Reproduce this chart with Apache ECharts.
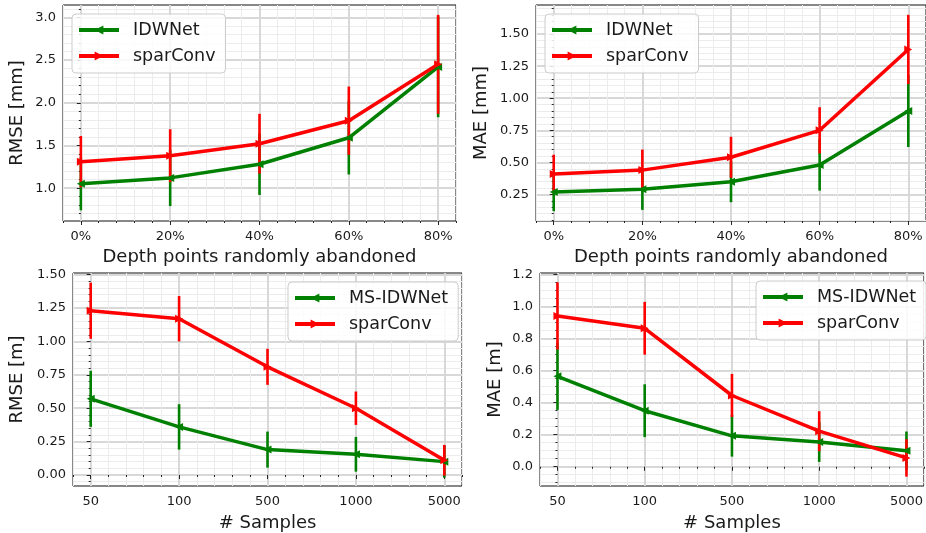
<!DOCTYPE html>
<html>
<head>
<meta charset="utf-8">
<script src="https://cdn.jsdelivr.net/npm/echarts@6/dist/echarts.min.js"></script>
<style>html,body{margin:0;padding:0;background:#fff;}#c{width:926px;height:533px;}</style>
</head>
<body>
<div id="c"></div>
<script>
// ---------- data ----------
const xPos = [0, 1, 2, 3, 4];
const xLabelsTop = ['0%', '20%', '40%', '60%', '80%'];
const xLabelsBottom = ['50', '100', '500', '1000', '5000'];

const rmseIdw = [1.05, 1.12, 1.28, 1.59, 2.42];
const rmseIdwErr = [0.31, 0.33, 0.36, 0.43, 0.59];
const rmseSpar = [1.31, 1.38, 1.52, 1.79, 2.45];
const rmseSparErr = [0.30, 0.31, 0.35, 0.40, 0.58];

const maeIdw = [0.27, 0.29, 0.35, 0.48, 0.90];
const maeIdwErr = [0.15, 0.16, 0.16, 0.20, 0.28];
const maeSpar = [0.41, 0.44, 0.54, 0.75, 1.38];
const maeSparErr = [0.15, 0.16, 0.16, 0.18, 0.27];

const rmseMs = [0.57, 0.36, 0.19, 0.155, 0.10];
const rmseMsErr = [0.21, 0.17, 0.135, 0.13, 0.12];
const rmseSpar2 = [1.23, 1.17, 0.81, 0.50, 0.11];
const rmseSpar2Err = [0.21, 0.17, 0.135, 0.125, 0.115];

const maeMs = [0.565, 0.35, 0.193, 0.155, 0.10];
const maeMsErr = [0.21, 0.165, 0.13, 0.125, 0.12];
const maeSpar2 = [0.942, 0.865, 0.445, 0.222, 0.055];
const maeSpar2Err = [0.21, 0.165, 0.135, 0.125, 0.117];

const yTicks1 = [1.0, 1.5, 2.0, 2.5, 3.0];
const yTicks2 = [0.25, 0.50, 0.75, 1.00, 1.25, 1.50];
const yTicks3 = [0.00, 0.25, 0.50, 0.75, 1.00, 1.25, 1.50];
const yTicks4 = [0.0, 0.2, 0.4, 0.6, 0.8, 1.0, 1.2];

// ---------- helpers ----------
const FONT = 'DejaVu Sans';
const GREEN = '#008000', RED = '#ff0000';
const TXT = '#1a1a1a';

function minorValues(min, max, step, majorStep) {
  const out = [];
  const start = Math.ceil(min / step - 1e-9);
  const end = Math.floor(max / step + 1e-9);
  for (let k = start; k <= end; k++) {
    const v = +(k * step).toFixed(6);
    const r = v / majorStep;
    if (Math.abs(r - Math.round(r)) < 1e-6) continue;
    out.push(v);
  }
  return out;
}

const panels = [
  { grid: {left: 63, top: 5, width: 393, height: 216}, xLabels: xLabelsTop, xName: 'Depth points randomly abandoned', xNameGap: 27,
    yName: 'RMSE [mm]', yNameGap: 37, yMin: 0.615, yMax: 3.145, yTicks: yTicks1, yMinor: 0.1, yMajor: 0.5, yDec: 1,
    names: ['IDWNet', 'sparConv'], g: rmseIdw, gE: rmseIdwErr, r: rmseSpar, rE: rmseSparErr,
    legend: {left: 72, top: 14} },
  { grid: {left: 536, top: 5, width: 394, height: 216}, xLabels: xLabelsTop, xName: 'Depth points randomly abandoned', xNameGap: 27,
    yName: 'MAE [mm]', yNameGap: 46, yMin: 0.0435, yMax: 1.7265, yTicks: yTicks2, yMinor: 0.05, yMajor: 0.25, yDec: 2,
    names: ['IDWNet', 'sparConv'], g: maeIdw, gE: maeIdwErr, r: maeSpar, rE: maeSparErr,
    legend: {left: 545, top: 14} },
  { grid: {left: 73, top: 273, width: 389, height: 213}, xLabels: xLabelsBottom, xName: '# Samples', xNameGap: 28,
    yName: 'RMSE [m]', yNameGap: 47, yMin: -0.0825, yMax: 1.5125, yTicks: yTicks3, yMinor: 0.05, yMajor: 0.25, yDec: 2,
    names: ['MS-IDWNet', 'sparConv'], g: rmseMs, gE: rmseMsErr, r: rmseSpar2, rE: rmseSpar2Err,
    legend: {left: 288, top: 282} },
  { grid: {left: 540, top: 273, width: 390, height: 213}, xLabels: xLabelsBottom, xName: '# Samples', xNameGap: 28,
    yName: 'MAE [m]', yNameGap: 36, yMin: -0.1205, yMax: 1.2105, yTicks: yTicks4, yMinor: 0.05, yMajor: 0.2, yDec: 1,
    names: ['MS-IDWNet', 'sparConv'], g: maeMs, gE: maeMsErr, r: maeSpar2, rE: maeSpar2Err,
    legend: {left: 756, top: 281} }
];

const option = {
  animation: false,
  backgroundColor: '#fff',
  textStyle: {fontFamily: FONT},
  grid: [], xAxis: [], yAxis: [], series: [], legend: []
};

const XMIN = -0.2, XMAX = 4.2;

panels.forEach((p, i) => {
  option.grid.push(Object.assign({show: true, borderColor: '#111', borderWidth: 1, backgroundColor: '#fff', containLabel: false}, p.grid));
  // minor x axis
  option.xAxis.push({
    type: 'value', gridIndex: i, position: 'bottom', min: XMIN, max: XMAX,
    axisLine: {show: false}, axisLabel: {show: false},
    axisTick: {show: true, length: 2, lineStyle: {color: '#222', width: 1}, customValues: minorValues(XMIN, XMAX, 0.2, 1)},
    splitLine: {show: true, lineStyle: {color: '#ececec', width: 1}}
  });
  // major x axis
  option.xAxis.push({
    type: 'value', gridIndex: i, position: 'bottom', min: XMIN, max: XMAX,
    axisLine: {show: false},
    axisTick: {show: true, length: 4, lineStyle: {color: '#222', width: 1}, customValues: xPos},
    axisLabel: {show: true, customValues: xPos, color: TXT, fontSize: 13, fontFamily: FONT, margin: 9,
      formatter: v => p.xLabels[Math.round(v)]},
    splitLine: {show: true, lineStyle: {color: '#d8d8d8', width: 2}},
    name: p.xName, nameLocation: 'middle', nameGap: p.xNameGap,
    nameTextStyle: {fontSize: 18, color: TXT, fontFamily: FONT}
  });
  // minor y axis
  option.yAxis.push({
    type: 'value', gridIndex: i, position: 'left', min: p.yMin, max: p.yMax,
    axisLine: {show: false}, axisLabel: {show: false},
    axisTick: {show: true, length: 2, lineStyle: {color: '#222', width: 1}, customValues: minorValues(p.yMin, p.yMax, p.yMinor, p.yMajor)},
    splitLine: {show: true, lineStyle: {color: '#ececec', width: 1}}
  });
  // major y axis
  option.yAxis.push({
    type: 'value', gridIndex: i, position: 'left', min: p.yMin, max: p.yMax,
    axisLine: {show: false},
    axisTick: {show: true, length: 4, lineStyle: {color: '#222', width: 1}, customValues: p.yTicks},
    axisLabel: {show: true, customValues: p.yTicks, color: TXT, fontSize: 13, fontFamily: FONT, margin: 7,
      formatter: v => (+v).toFixed(p.yDec)},
    splitLine: {show: true, lineStyle: {color: '#d8d8d8', width: 2}},
    name: p.yName, nameLocation: 'middle', nameGap: p.yNameGap,
    nameTextStyle: {fontSize: 18, color: TXT, fontFamily: FONT}
  });

  const xi = 2 * i + 1, yi = 2 * i + 1;
  const errSeries = (vals, errs, color, nm) => ({
    type: 'custom', name: nm, xAxisIndex: xi, yAxisIndex: yi,
    data: vals.map((v, k) => [xPos[k], v - errs[k], v + errs[k]]),
    encode: {x: 0, y: [1, 2]},
    clip: true,
    renderItem: (params, api) => {
      const a = api.coord([api.value(0), api.value(1)]);
      const b = api.coord([api.value(0), api.value(2)]);
      return {type: 'line', shape: {x1: a[0], y1: a[1], x2: b[0], y2: b[1]}, style: {stroke: color, lineWidth: 2.6}};
    }
  });
  const lineSeries = (vals, color, nm, rot) => ({
    type: 'line', name: nm, xAxisIndex: xi, yAxisIndex: yi,
    data: vals.map((v, k) => [xPos[k], v]),
    symbol: 'triangle', symbolSize: 8, symbolRotate: rot, showSymbol: true,
    lineStyle: {color: color, width: 3.5}, itemStyle: {color: color}
  });
  option.series.push(errSeries(p.g, p.gE, GREEN, 'errg' + i));
  option.series.push(lineSeries(p.g, GREEN, p.names[0], 90));
  option.series.push(errSeries(p.r, p.rE, RED, 'errr' + i));
  option.series.push(lineSeries(p.r, RED, p.names[1], -90));

  option.legend.push({
    left: p.legend.left, top: p.legend.top, orient: 'vertical',
    data: p.names, selectedMode: false,
    itemWidth: 40, itemHeight: 11, itemGap: 8,
    padding: [7, 10, 8, 5],
    lineStyle: {width: 4},
    backgroundColor: 'rgba(255,255,255,0.85)', borderColor: '#cccccc', borderWidth: 1, borderRadius: 4,
    textStyle: {fontSize: 17.5, color: TXT, fontFamily: FONT, lineHeight: 18, padding: [0, 0, 0, 9]}
  });
});

const chart = echarts.init(document.getElementById('c'), null, {renderer: 'canvas'});
chart.setOption(option);
</script>
</body>
</html>
